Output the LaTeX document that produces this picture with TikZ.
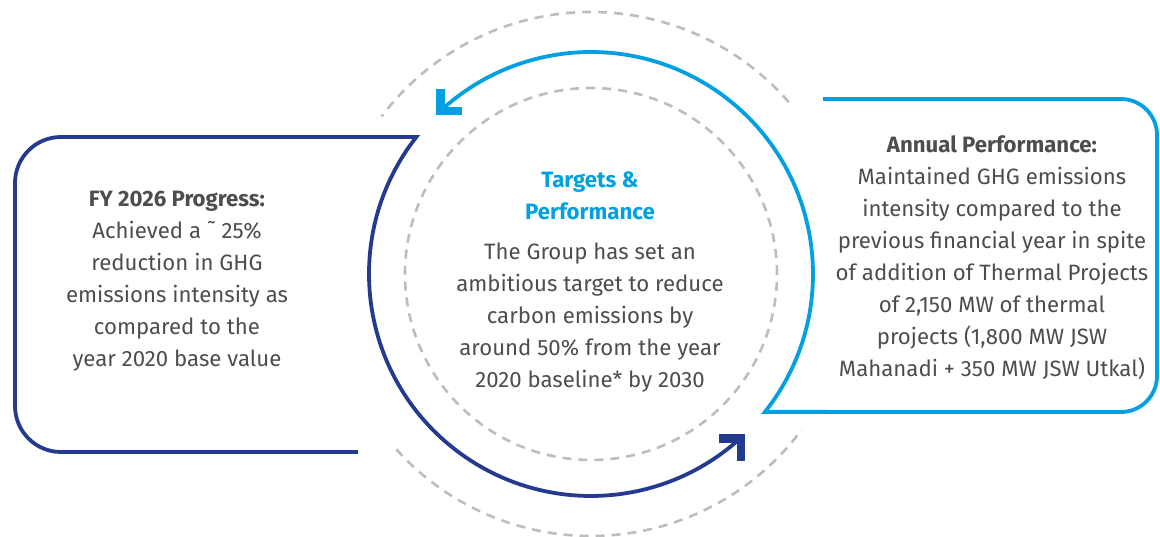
\documentclass[tikz,border=0pt]{standalone}
\usepackage{fontspec}
\setmainfont{Fira Sans}
\usetikzlibrary{calc}
\definecolor{lightblue}{HTML}{00A0E3}
\definecolor{darkblue}{HTML}{233A8E}
\definecolor{dashgray}{HTML}{BDBDBD}
\definecolor{textgray}{HTML}{4D4D4D}
\tikzset{
  txt/.style={font=\fontsize{22.2}{32}\selectfont, text=textgray, align=center, inner sep=0pt},
  ttl/.style={font=\fontsize{22.2}{32}\selectfont\bfseries, text=lightblue, align=center, inner sep=0pt},
  dashring/.style={draw=dashgray, line width=2.6pt, dash pattern=on 9pt off 7pt},
  lightline/.style={draw=lightblue, line width=3.8pt, line join=miter, miter limit=20},
  darkline/.style={draw=darkblue, line width=3.8pt, line join=miter, miter limit=20},
  chevron/.style={line width=8.5pt, line join=miter, line cap=butt, miter limit=10}
}
\begin{document}
\begin{tikzpicture}[x=1pt,y=1pt]
\useasboundingbox (0,0) rectangle (1160,537);
\coordinate (C) at (591,263);
% dashed rings
\draw[dashring] (C) circle[radius=186pt];
\draw[dashring] ($(C)+(41:262pt)$) arc[start angle=41,end angle=143,radius=262pt];
\draw[dashring] ($(C)+(222:262pt)$) arc[start angle=222,end angle=323.5,radius=262pt];
% left box + dark arc
\draw[darkline] (358,85) -- (61,85) arc[start angle=270,end angle=180,radius=46pt]
  -- (15,354) arc[start angle=180,end angle=90,radius=46pt]
  -- ($(C)+(141.9:222pt)$) arc[start angle=141.9,end angle=312.5,radius=222pt];
\draw[chevron, draw=darkblue] (719,98.5) -- (741,98.5) -- (741,76);
% right box + light arc
\draw[lightline] (823,438) -- (1121,438) arc[start angle=90,end angle=0,radius=36pt]
  -- (1157,161) arc[start angle=0,end angle=-90,radius=36pt]
  -- ($(C)+(-38.4:222pt)$) arc[start angle=-38.4,end angle=132.7,radius=222pt];
\draw[chevron, draw=lightblue] (440.5,448) -- (440.5,426) -- (462,426);
% texts
\node[txt] (left) at (177,256) {\textbf{FY 2026 Progress:}\\Achieved a \char"02DC\ 25\%\\reduction in GHG\\emissions intensity as\\compared to the\\year 2020 base value};
\node[ttl] (title) at (590,341) {Targets \&\\Performance};
\node[txt] (center) at (590,219.5) {The Group has set an\\ambitious target to reduce\\carbon emissions by\\around 50\% from the year\\2020 baseline* by 2030};
\node[txt] (right) at (992,279) {\textbf{Annual Performance:}\\Maintained GHG emissions\\intensity compared to the\\previous financial year in spite\\of addition of Thermal Projects\\of 2,150 MW of thermal\\projects (1,800 MW JSW\\Mahanadi + 350 MW JSW Utkal)};
\end{tikzpicture}
\end{document}
